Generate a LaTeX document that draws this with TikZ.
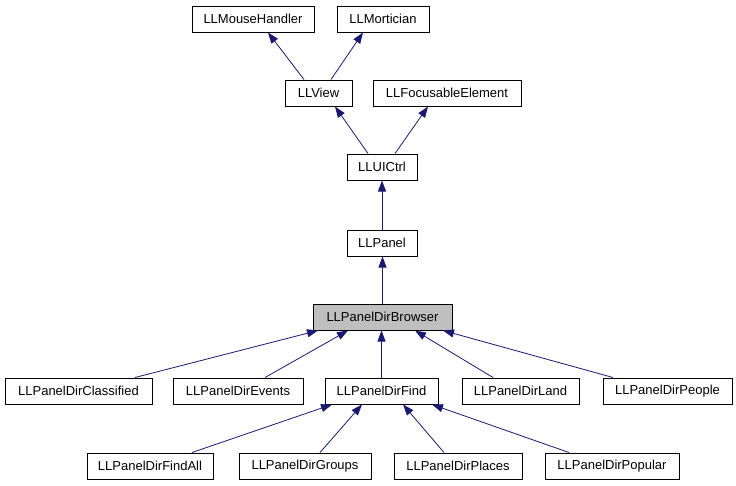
\documentclass[tikz,border=0pt]{standalone}
\usepackage{fontspec}
\setmainfont{Liberation Sans}
\usetikzlibrary{arrows.meta}
\definecolor{edgeblue}{HTML}{191970}
\definecolor{boxgray}{HTML}{BFBFBF}

\begin{document}
\begin{tikzpicture}[
  x=1pt, y=-1pt,
  font=\fontsize{13}{15}\selectfont,
  cls/.style={rectangle, draw=black, line width=1pt, fill=white, minimum height=26pt, inner sep=0pt},
  here/.style={cls, fill=boxgray},
  inh/.style={line width=0.8pt, draw=edgeblue, -{Triangle[length=11pt, width=8pt, fill=edgeblue]}}
]
\useasboundingbox (0,0) rectangle (736,485);

% ===================== Bases =====================
\node[cls, minimum width=122pt] (mouse)  at (253,19)   {LLMouseHandler};
\node[cls, minimum width=92pt]  (mort)   at (383,19)   {LLMortician};
\node[cls, minimum width=67pt]  (view)   at (318.5,93) {LLView};
\node[cls, minimum width=148pt] (focus)  at (447,93)   {LLFocusableElement};
\node[cls, minimum width=70pt]  (uictrl) at (382,167)  {LLUICtrl};
\node[cls, minimum width=70pt]  (panel)  at (382,243)  {LLPanel};

% ===================== Browser (current class) =====================
\node[here, minimum width=139pt] (browser) at (382.5,317) {LLPanelDirBrowser};

% ===================== Derived =====================
\node[cls, minimum width=147pt] (classified) at (78.5,391)  {LLPanelDirClassified};
\node[cls, minimum width=130pt] (events)     at (238,391)   {LLPanelDirEvents};
\node[cls, minimum width=113pt] (find)       at (381.5,391) {LLPanelDirFind};
\node[cls, minimum width=117pt] (land)       at (520.5,391) {LLPanelDirLand};
\node[cls, minimum width=129pt] (people)     at (667.5,391) {LLPanelDirPeople};

\node[cls, minimum width=126pt] (findall) at (150,466) {LLPanelDirFindAll};
\node[cls, minimum width=132pt] (groups)  at (305,466) {LLPanelDirGroups};
\node[cls, minimum width=128pt] (places)  at (458,466) {LLPanelDirPlaces};
\node[cls, minimum width=134pt] (popular) at (612,466) {LLPanelDirPopular};

% Edges (child -> parent)
\draw[inh] ([xshift=-14.5pt]view.north) -- ([xshift=15pt]mouse.south);
\draw[inh] ([xshift=12.5pt]view.north)  -- ([xshift=-20pt]mort.south);
\draw[inh] ([xshift=-14pt]uictrl.north) -- ([xshift=16.5pt]view.south);
\draw[inh] ([xshift=13pt]uictrl.north)  -- ([xshift=-19pt]focus.south);
\draw[inh] (panel.north) -- (uictrl.south);
\draw[inh] (browser.north) -- (browser.north |- panel.south);

\draw[inh] ([xshift=56.5pt]classified.north) -- ([xshift=-64.5pt]browser.south);
\draw[inh] ([xshift=27pt]events.north)       -- ([xshift=-34.5pt]browser.south);
\draw[inh] (find.north) -- (find.north |- browser.south);
\draw[inh] ([xshift=-27.5pt]land.north)      -- ([xshift=32.5pt]browser.south);
\draw[inh] ([xshift=-54.5pt]people.north)    -- ([xshift=60.5pt]browser.south);

\draw[inh] ([xshift=42pt]findall.north)  -- ([xshift=-49.5pt]find.south);
\draw[inh] ([xshift=15pt]groups.north)   -- ([xshift=-19.5pt]find.south);
\draw[inh] ([xshift=-14pt]places.north)  -- ([xshift=21.5pt]find.south);
\draw[inh] ([xshift=-43pt]popular.north) -- ([xshift=50.5pt]find.south);

\end{tikzpicture}
\end{document}
